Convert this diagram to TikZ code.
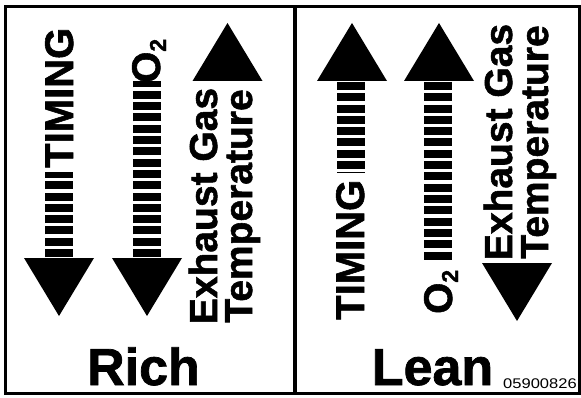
\documentclass[tikz,border=0pt]{standalone}
\usepackage{fontspec}
\setmainfont{Liberation Sans}
\newfontfamily\schwer{Liberation Sans Bold}[FakeBold=1.4]
\usepackage{tikz}

% Pfeilspitzen (nach unten / nach oben)
\newcommand{\kopfab}[2]{\fill (#1-\hw,#2) -- (#1+\hw,#2) -- (#1,#2-\hh) -- cycle;}
\newcommand{\kopfauf}[2]{\fill (#1-\hw,#2) -- (#1+\hw,#2) -- (#1,#2+\hh) -- cycle;}

\begin{document}
\begin{tikzpicture}[x=1pt,y=1pt,
    schaft/.style={line width=28pt, dash pattern=on 8pt off 3.3pt},
    beschr/.style={rotate=90, inner sep=0pt, anchor=base west,
        font=\fontsize{40}{40}\selectfont\schwer},
    egt/.style={rotate=90, inner sep=0pt, anchor=base,
        font=\fontsize{39}{39}\selectfont\schwer},
    gemisch/.style={inner sep=0pt, anchor=base,
        font=\fontsize{52}{52}\selectfont\schwer}]
\def\hw{35} % halbe Breite der Spitze
\def\hh{58} % Hoehe der Spitze
\def\tief{\raisebox{-6pt}{\fontsize{23}{23}\selectfont 2}}

\useasboundingbox (0,0) rectangle (581,397);

% =========================================================
% Rahmen und Trennlinie
% =========================================================
\draw[line width=3pt] (5,4) rectangle (579,390);
\draw[line width=3.5pt] (295,4) -- (295,390);

% =========================================================
% RICH (links)
% =========================================================
% TIMING nach unten
\kopfab{59}{139}
\draw[schaft] (59,140) -- (59,225);
\node[beschr] (timingL) at (73,229) {TIMING};
% O2 nach unten
\kopfab{147}{139}
\draw[schaft] (147,140) -- (147,316);
\node[beschr] (otwoL) at (160,314) {O\tief};
% Abgastemperatur nach oben
\kopfauf{227.5}{316}
\node[egt] (egtLa) at (217,191) {Exhaust Gas};
\node[egt] (egtLb) at (252,191) {Temperature};

\node[gemisch] (rich) at (143.5,12) {Rich};

% =========================================================
% LEAN (rechts)
% =========================================================
% TIMING nach oben
\kopfauf{352}{316}
\draw[schaft] (351,315) -- (351,224);
\node[beschr] (timingR) at (364,77) {TIMING};
% O2 nach oben
\kopfauf{439}{316}
\draw[schaft] (438,315) -- (438,136);
\node[beschr] (otwoR) at (452,83) {O\tief};
% Abgastemperatur nach unten
\kopfab{517}{134}
\node[egt] (egtRa) at (512,255) {Exhaust Gas};
\node[egt] (egtRb) at (548,255) {Temperature};

\node[gemisch] (lean) at (432.5,12) {Lean};
\node[inner sep=0pt, anchor=base west, font=\fontsize{14}{14}\selectfont]
    (bildnr) at (503,9) {\scalebox{1.18}[1]{05900826}};

\end{tikzpicture}
\end{document}
